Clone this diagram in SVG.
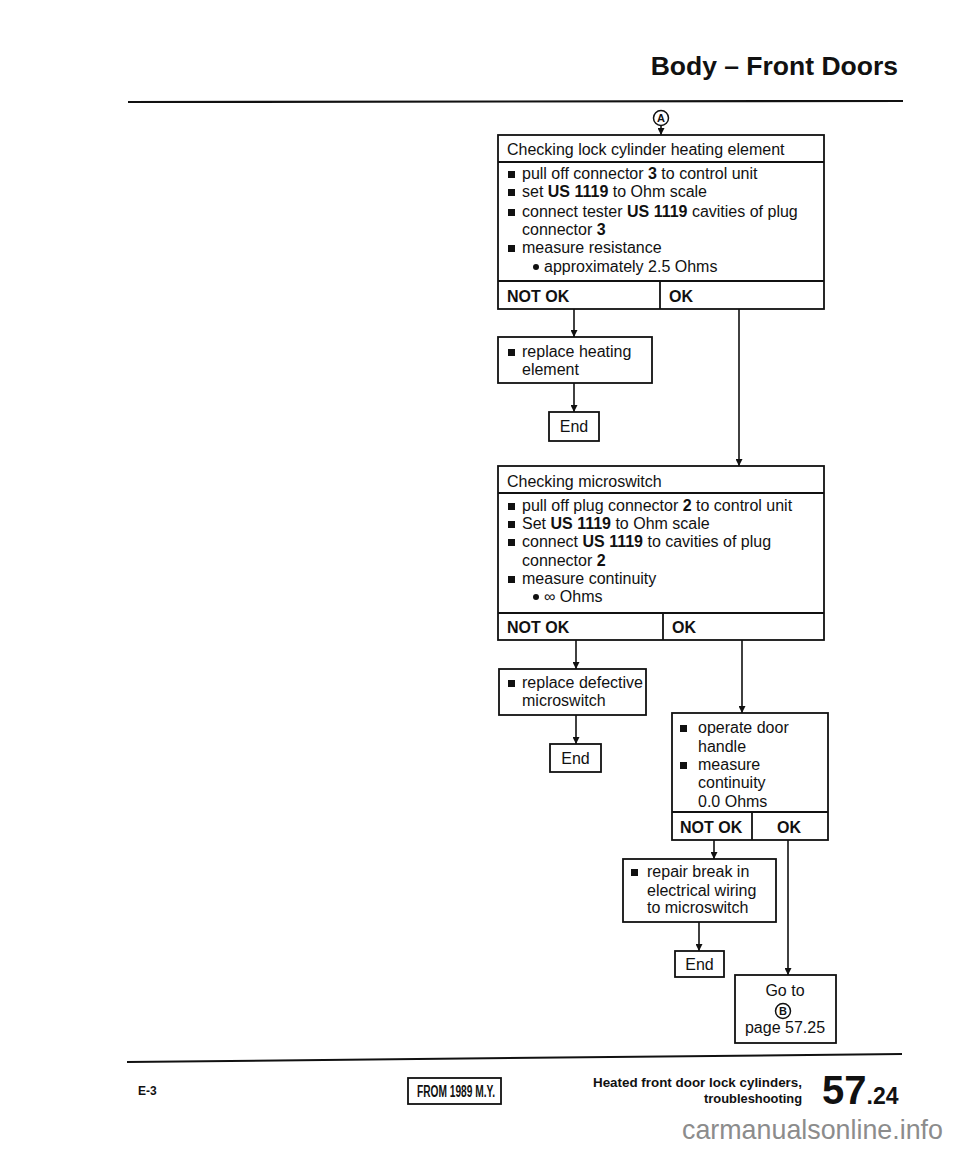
<svg xmlns="http://www.w3.org/2000/svg" width="960" height="1150" viewBox="0 0 960 1150">
<defs>
<style>
.t{font-family:"Liberation Sans",Arial,sans-serif;font-size:16px;fill:#111}
.b{font-weight:bold}
.box{fill:#fff;stroke:#111;stroke-width:1.8}
.ln{stroke:#111;stroke-width:1.8;fill:none}
.c{stroke:#111;stroke-width:1.6;fill:none}
.bul{fill:#111}
</style>
<marker id="ah" viewBox="0 0 10 10" refX="10" refY="5" markerWidth="7" markerHeight="7" markerUnits="userSpaceOnUse" orient="auto">
<path d="M0,0 L10,5 L0,10 z" fill="#111"/>
</marker>
</defs>
<rect width="960" height="1150" fill="#fff"/>

<g id="header">
<text class="t b" x="898" y="75" style="font-size:26.5px" text-anchor="end">Body – Front Doors</text>
<line x1="128" y1="102" x2="903" y2="101" stroke="#111" stroke-width="2.2"/>
</g>

<g id="connectorA">
<circle cx="661" cy="118" r="7.5" fill="none" stroke="#111" stroke-width="1.5"/>
<text class="t b" x="661" y="122" text-anchor="middle" style="font-size:11px">A</text>
</g>

<g id="node-check-heating">
<rect class="box" x="498" y="135" width="326" height="174"/>
<line class="ln" x1="498" y1="162" x2="824" y2="162"/>
<line class="ln" x1="498" y1="281" x2="824" y2="281"/>
<line class="ln" x1="660" y1="281" x2="660" y2="309"/>
<text class="t" x="507" y="155">Checking lock cylinder heating element</text>
<rect class="bul" x="508" y="171" width="7" height="7"/>
<text class="t" x="522" y="179">pull off connector <tspan class="b">3</tspan> to control unit</text>
<rect class="bul" x="508" y="189" width="7" height="7"/>
<text class="t" x="522" y="197">set <tspan class="b">US 1119</tspan> to Ohm scale</text>
<rect class="bul" x="508" y="209" width="7" height="7"/>
<text class="t" x="522" y="217">connect tester <tspan class="b">US 1119</tspan> cavities of plug</text>
<text class="t" x="522" y="235">connector <tspan class="b">3</tspan></text>
<rect class="bul" x="508" y="245" width="7" height="7"/>
<text class="t" x="522" y="253">measure resistance</text>
<circle cx="536" cy="267" r="3" fill="#111"/>
<text class="t" x="544" y="272">approximately 2.5 Ohms</text>
<text class="t b" x="507" y="302">NOT OK</text>
<text class="t b" x="669" y="302">OK</text>
</g>

<g id="node-replace-heating">
<rect class="box" x="498" y="337" width="154" height="46"/>
<rect class="bul" x="508" y="349" width="7" height="7"/>
<text class="t" x="522" y="357">replace heating</text>
<text class="t" x="522" y="375">element</text>
</g>

<g id="node-end1">
<rect class="box" x="549" y="412" width="50" height="29"/>
<text class="t" x="574" y="432" text-anchor="middle">End</text>
</g>

<g id="node-check-microswitch">
<rect class="box" x="498" y="466" width="326" height="174"/>
<line class="ln" x1="498" y1="493" x2="824" y2="493"/>
<line class="ln" x1="498" y1="613" x2="824" y2="613"/>
<line class="ln" x1="663" y1="613" x2="663" y2="640"/>
<text class="t" x="507" y="487">Checking microswitch</text>
<rect class="bul" x="508" y="503" width="7" height="7"/>
<text class="t" x="522" y="511">pull off plug connector <tspan class="b">2</tspan> to control unit</text>
<rect class="bul" x="508" y="521" width="7" height="7"/>
<text class="t" x="522" y="529">Set <tspan class="b">US 1119</tspan> to Ohm scale</text>
<rect class="bul" x="508" y="539" width="7" height="7"/>
<text class="t" x="522" y="547">connect <tspan class="b">US 1119</tspan> to cavities of plug</text>
<text class="t" x="522" y="566">connector <tspan class="b">2</tspan></text>
<rect class="bul" x="508" y="576" width="7" height="7"/>
<text class="t" x="522" y="584">measure continuity</text>
<circle cx="536" cy="597" r="3" fill="#111"/>
<text class="t" x="544" y="602">∞ Ohms</text>
<text class="t b" x="507" y="633">NOT OK</text>
<text class="t b" x="672" y="633">OK</text>
</g>

<g id="node-replace-microswitch">
<rect class="box" x="499" y="669" width="147" height="46"/>
<rect class="bul" x="508" y="680" width="7" height="7"/>
<text class="t" x="522" y="688">replace defective</text>
<text class="t" x="522" y="706">microswitch</text>
</g>

<g id="node-end2">
<rect class="box" x="550" y="744" width="51" height="28"/>
<text class="t" x="575.5" y="764" text-anchor="middle">End</text>
</g>

<g id="node-operate">
<rect class="box" x="672" y="713" width="156" height="127"/>
<line class="ln" x1="672" y1="812" x2="828" y2="812"/>
<line class="ln" x1="752" y1="812" x2="752" y2="840"/>
<rect class="bul" x="680" y="725" width="7" height="7"/>
<text class="t" x="698" y="733">operate door</text>
<text class="t" x="698" y="752">handle</text>
<rect class="bul" x="680" y="762" width="7" height="7"/>
<text class="t" x="698" y="770">measure</text>
<text class="t" x="698" y="788">continuity</text>
<text class="t" x="698" y="807">0.0 Ohms</text>
<text class="t b" x="680" y="833">NOT OK</text>
<text class="t b" x="777" y="833">OK</text>
</g>

<g id="node-repair">
<rect class="box" x="623" y="859" width="153" height="63"/>
<rect class="bul" x="631" y="869" width="7" height="7"/>
<text class="t" x="647" y="877">repair break in</text>
<text class="t" x="647" y="896">electrical wiring</text>
<text class="t" x="647" y="913">to microswitch</text>
</g>

<g id="node-end3">
<rect class="box" x="675" y="951" width="49" height="26"/>
<text class="t" x="699.5" y="970" text-anchor="middle">End</text>
</g>

<g id="node-goto">
<rect class="box" x="735" y="975" width="101" height="68"/>
<text class="t" x="785" y="996" text-anchor="middle">Go to</text>
<circle cx="783" cy="1011" r="7.5" fill="none" stroke="#111" stroke-width="1.5"/>
<text class="t b" x="783" y="1015" text-anchor="middle" style="font-size:11px">B</text>
<text class="t" x="785" y="1033" text-anchor="middle">page 57.25</text>
</g>

<g id="connectors">
<line class="c" x1="661" y1="126" x2="661" y2="135" marker-end="url(#ah)"/>
<line class="c" x1="574" y1="309" x2="574" y2="337" marker-end="url(#ah)"/>
<line class="c" x1="574" y1="383" x2="574" y2="412" marker-end="url(#ah)"/>
<line class="c" x1="739" y1="309" x2="739" y2="466" marker-end="url(#ah)"/>
<line class="c" x1="576" y1="640" x2="576" y2="669" marker-end="url(#ah)"/>
<line class="c" x1="576" y1="715" x2="576" y2="744" marker-end="url(#ah)"/>
<line class="c" x1="742" y1="640" x2="742" y2="713" marker-end="url(#ah)"/>
<line class="c" x1="714" y1="840" x2="714" y2="859" marker-end="url(#ah)"/>
<line class="c" x1="699" y1="922" x2="699" y2="951" marker-end="url(#ah)"/>
<line class="c" x1="788" y1="840" x2="788" y2="975" marker-end="url(#ah)"/>
</g>

<g id="footer">
<line x1="127" y1="1062" x2="902" y2="1054" stroke="#111" stroke-width="2"/>
<text class="t b" x="138" y="1095" style="font-size:12px">E-3</text>
<rect class="box" x="408" y="1078" width="93" height="26"/>
<text class="t b" x="417" y="1097" style="font-size:16px" textLength="78" lengthAdjust="spacingAndGlyphs">FROM 1989 M.Y.</text>
<text class="t b" x="802" y="1087" text-anchor="end" style="font-size:12.5px" textLength="209" lengthAdjust="spacingAndGlyphs">Heated front door lock cylinders,</text>
<text class="t b" x="802" y="1103" text-anchor="end" style="font-size:12.5px" textLength="98" lengthAdjust="spacingAndGlyphs">troubleshooting</text>
<text class="t b" x="822" y="1104" style="font-size:40px">57<tspan style="font-size:23px">.24</tspan></text>
<text x="682" y="1139" style="font-family:'Liberation Sans',Arial,sans-serif;font-size:28px;fill:#8c8c8c" textLength="261" lengthAdjust="spacingAndGlyphs">carmanualsonline.info</text>
</g>
</svg>
